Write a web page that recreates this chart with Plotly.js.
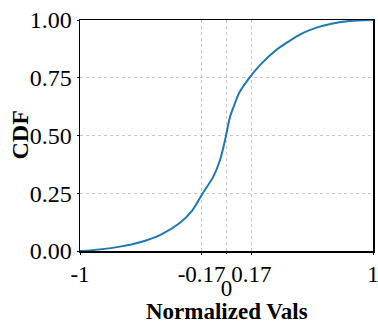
<!DOCTYPE html>
<html>
<head>
<meta charset="utf-8">
<script src="https://cdn.plot.ly/plotly-3.0.1.min.js"></script>
<style>html,body{margin:0;padding:0;background:#fff;}</style>
</head>
<body>
<div id="chart" style="width:378px;height:322px;"></div>
<script>
const xVals = [-1, -0.863, -0.727, -0.59, -0.454, -0.317, -0.24, -0.167, -0.09, -0.044, -0.01, 0, 0.024, 0.058, 0.085, 0.16, 0.24, 0.331, 0.422, 0.51, 0.61, 0.725, 0.84, 1];
const cdfVals = [0, 0.007, 0.019, 0.038, 0.069, 0.122, 0.17, 0.245, 0.322, 0.394, 0.48, 0.51, 0.581, 0.64, 0.683, 0.753, 0.812, 0.866, 0.906, 0.94, 0.966, 0.985, 0.996, 1];
const xTickVals = [-1, -0.17, 0.17, 1];
const xTickText = ['-1', '-0.17', '0.17', '1'];
const xTickVals2 = [0];
const xTickText2 = ['0'];
const yTickVals = [0, 0.25, 0.5, 0.75, 1];
const yTickText = ['0.00', '0.25', '0.50', '0.75', '1.00'];
const xTitle = 'Normalized Vals';
const yTitle = 'CDF';

const FAM = '"Liberation Serif", "Times New Roman", Times, serif';
const tickFont = {family: FAM, size: 24, color: '#000'};
const xTickFont = {family: FAM, size: 23, color: '#000'};
const titleFont = {family: FAM, size: 24, color: '#000', weight: 'bold'};
const xTitleFont = {family: FAM, size: 23, color: '#000', weight: 'bold'};

Plotly.newPlot('chart', [{
  x: xVals, y: cdfVals, mode: 'lines', type: 'scatter',
  line: {color: '#1f77b4', width: 2, shape: 'spline', smoothing: 0.8},
  hoverinfo: 'skip'
}, {
  x: xTickVals2, y: [null], xaxis: 'x2', yaxis: 'y', mode: 'markers',
  marker: {opacity: 0}, hoverinfo: 'skip', showlegend: false
}], {
  width: 378, height: 322,
  margin: {l: 80, r: 5, t: 20, b: 71},
  paper_bgcolor: '#fff', plot_bgcolor: '#fff',
  showlegend: false,
  font: {family: FAM, size: 24, color: '#000'},
  xaxis: {
    range: [-1, 1], tickvals: xTickVals, ticktext: xTickText, tickangle: 0,
    ticks: 'outside', ticklen: 2, tickwidth: 1, tickcolor: '#000',
    showline: true, linecolor: '#000', linewidth: 1.5, mirror: true,
    showgrid: true, gridcolor: '#c8c8c8', griddash: 'dot', gridwidth: 1,
    zeroline: false, tickfont: xTickFont, automargin: false, ticklabeloverflow: 'allow'
  },
  xaxis2: {
    overlaying: 'x', side: 'bottom', anchor: 'y',
    range: [-1, 1], tickvals: xTickVals2, ticktext: xTickText2, tickangle: 0,
    ticks: 'outside', ticklen: 2, tickwidth: 1, tickcolor: '#000',
    showline: false, showgrid: true, gridcolor: '#c8c8c8', griddash: 'dot', gridwidth: 1,
    zeroline: false, tickfont: xTickFont, automargin: false, ticklabeloverflow: 'allow',
    ticklabelstandoff: 14
  },
  yaxis: {
    range: [0, 1], tickvals: yTickVals, ticktext: yTickText,
    ticks: 'outside', ticklen: 2, tickwidth: 1, tickcolor: '#000',
    showline: true, linecolor: '#000', linewidth: 1.5, mirror: true,
    showgrid: true, gridcolor: '#c8c8c8', griddash: 'dot', gridwidth: 1,
    zeroline: false, tickfont: tickFont, automargin: false, ticklabeloverflow: 'allow'
  },
  annotations: [{
    text: '<b>' + yTitle + '</b>', font: titleFont, textangle: -90,
    xref: 'paper', yref: 'paper', x: 0, y: 0.5, xanchor: 'center', yanchor: 'middle',
    xshift: -61, showarrow: false
  }, {
    text: '<b>' + xTitle + '</b>', font: xTitleFont,
    xref: 'paper', yref: 'paper', x: 0.5, y: 0, xanchor: 'center', yanchor: 'middle',
    yshift: -60, showarrow: false
  }]
}, {staticPlot: true, displayModeBar: false});
</script>
</body>
</html>
